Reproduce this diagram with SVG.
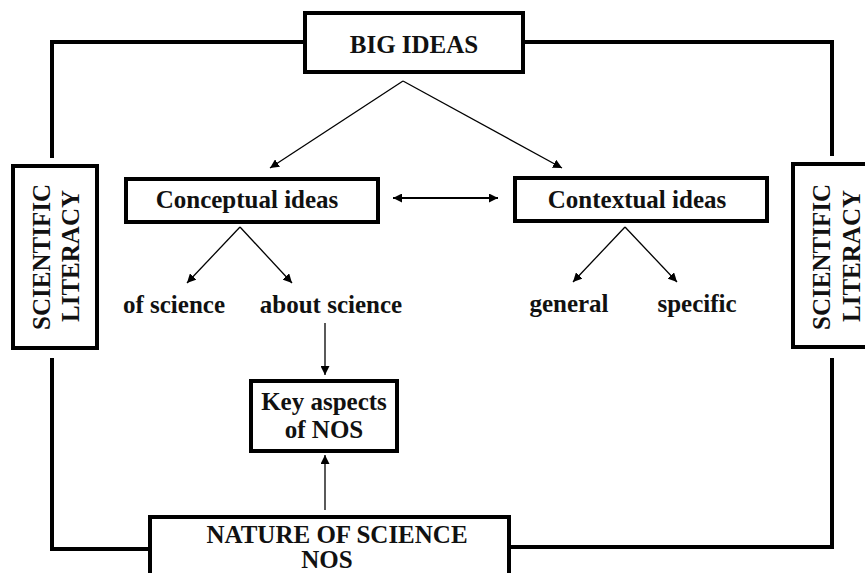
<svg xmlns="http://www.w3.org/2000/svg" width="865" height="573" viewBox="0 0 865 573">
<defs>
<marker id="ah" viewBox="0 0 10 10" refX="10" refY="5" markerWidth="9" markerHeight="9" markerUnits="userSpaceOnUse" orient="auto-start-reverse">
<path d="M0,0 L10,5 L0,10 z" fill="#000"/>
</marker>
<style>
.box{fill:#fff;stroke:#000;stroke-width:4}
.frame{fill:none;stroke:#000;stroke-width:4}
.arr{fill:none;stroke:#000;stroke-width:1.3;marker-end:url(#ah)}
.t{font-family:"Liberation Serif","Times New Roman",serif;font-weight:bold;font-size:25px;fill:#111;text-anchor:middle}
</style>
</defs>
<rect width="865" height="573" fill="#fff"/>
<g id="connectors">
<path class="frame" d="M305,42 H52 V158"/>
<path class="frame" d="M52,358 V549 H150"/>
<path class="frame" d="M523,42 H832 V156"/>
<path class="frame" d="M832,358 V547 H509"/>
<line class="arr" x1="403" y1="81" x2="270" y2="168"/>
<line class="arr" x1="403" y1="81" x2="562" y2="168"/>
<line x1="393" y1="198" x2="498" y2="198" stroke="#000" stroke-width="1.8" marker-start="url(#ah)" marker-end="url(#ah)"/>
<line class="arr" x1="240" y1="227" x2="187" y2="283"/>
<line class="arr" x1="240" y1="227" x2="292" y2="283"/>
<line class="arr" x1="625" y1="227" x2="573" y2="282"/>
<line class="arr" x1="625" y1="227" x2="677" y2="282"/>
<line class="arr" x1="325" y1="323" x2="325" y2="375"/>
<line class="arr" x1="325" y1="510" x2="325" y2="455"/>
</g>
<g id="big-ideas">
<rect class="box" x="305" y="13" width="218" height="59"/>
<text class="t" x="414" y="53">BIG IDEAS</text>
</g>
<g id="conceptual">
<rect class="box" x="126" y="179" width="252" height="43"/>
<text class="t" x="247" y="208">Conceptual ideas</text>
</g>
<g id="contextual">
<rect class="box" x="515" y="178" width="252" height="43"/>
<text class="t" x="637" y="208">Contextual ideas</text>
</g>
<g id="of-science"><text class="t" x="174" y="313">of science</text></g>
<g id="about-science"><text class="t" x="331" y="313">about science</text></g>
<g id="general"><text class="t" x="569" y="312">general</text></g>
<g id="specific"><text class="t" x="697" y="312">specific</text></g>
<g id="key-aspects">
<rect class="box" x="251" y="381" width="146" height="70"/>
<text class="t" x="324" y="410">Key aspects</text>
<text class="t" x="324" y="438">of NOS</text>
</g>
<g id="nos">
<rect class="box" x="150" y="517" width="359" height="70"/>
<text class="t" x="337" y="543">NATURE OF SCIENCE</text>
<text class="t" x="327" y="568">NOS</text>
</g>
<g id="sl-left">
<rect class="box" x="13" y="166" width="84" height="182"/>
<text class="t" transform="translate(50,257) rotate(-90)">SCIENTIFIC</text>
<text class="t" transform="translate(79,256) rotate(-90)">LITERACY</text>
</g>
<g id="sl-right">
<rect class="box" x="793" y="164" width="80" height="183"/>
<text class="t" transform="translate(830,257) rotate(-90)">SCIENTIFIC</text>
<text class="t" transform="translate(860,256) rotate(-90)">LITERACY</text>
</g>
</svg>
